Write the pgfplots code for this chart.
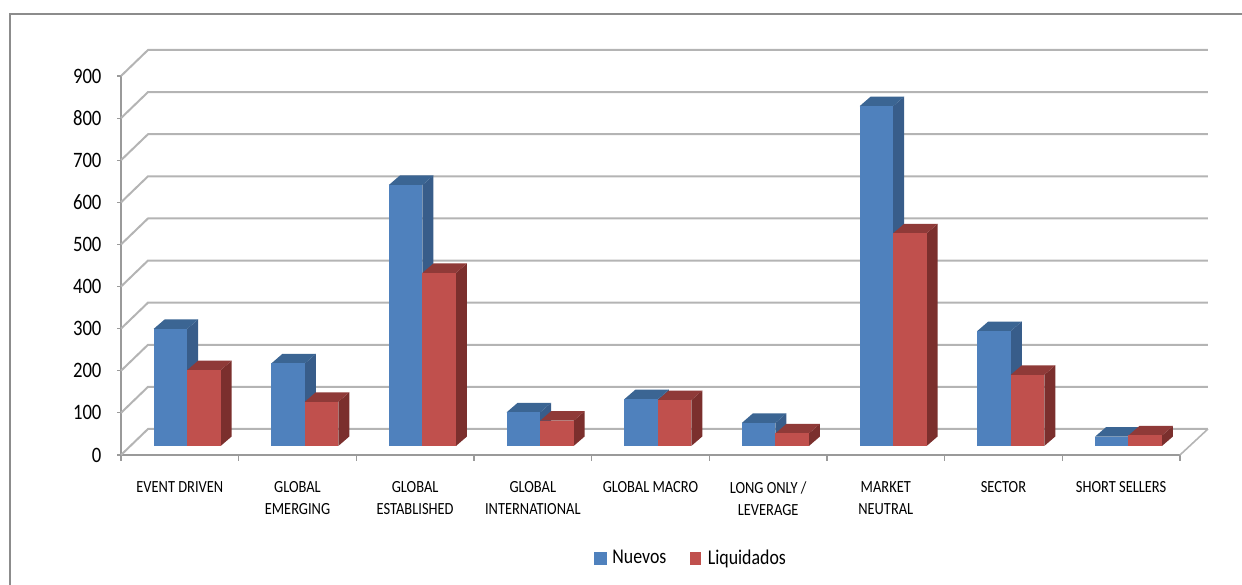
\documentclass[border=0pt]{standalone}
\usepackage{pgfplots}
\pgfplotsset{compat=1.18}
\usepackage{fontspec}
\setmainfont{Carlito}
\newfontfamily\narrowfont[FakeStretch=0.85]{Carlito}

% Colours of the faces, the grid and the outer frame
\definecolor{bluefront}{HTML}{4F81BD}
\definecolor{blueside}{HTML}{385D8A}
\definecolor{bluetop}{HTML}{3B6593}
\definecolor{redfront}{HTML}{C0504D}
\definecolor{redside}{HTML}{7B2F2D}
\definecolor{redtop}{HTML}{8F3A38}
\definecolor{gridgray}{HTML}{B4B4B4}
\definecolor{axisgray}{HTML}{9A9A9A}
\definecolor{framegray}{HTML}{8C8C8C}

% Extruded bar: category index, offset in the category, value, three face colours
\newcommand{\extrudedbar}[6]{%
  \pgfmathsetmacro{\xa}{#1+#2}%
  \pgfmathsetmacro{\xb}{\xa+0.2847}%
  \pgfmathsetmacro{\xc}{\xb+0.0935}%
  \pgfmathsetmacro{\xd}{\xa+0.0935}%
  \pgfmathsetmacro{\ya}{21.4}%
  \pgfmathsetmacro{\yb}{#3+21.4}%
  \pgfmathsetmacro{\yc}{#3+21.4+22.6}%
  \pgfmathsetmacro{\ye}{21.4+22.6}%
  \edef\drawfaces{%
    \noexpand\addplot[forget plot,draw=none,fill=#6] coordinates {(\xb,\ya)(\xc,\ye)(\xc,\yc)(\xb,\yb)} --cycle;
    \noexpand\addplot[forget plot,draw=none,fill=#5] coordinates {(\xa,\yb)(\xb,\yb)(\xc,\yc)(\xd,\yc)} --cycle;
    \noexpand\addplot[forget plot,draw=none,fill=#4] coordinates {(\xa,\ya)(\xb,\ya)(\xb,\yb)(\xa,\yb)} --cycle;
  }%
  \drawfaces
}
% One category: its index and the two values
\newcommand{\category}[3]{%
  \extrudedbar{#1}{0.2776}{#2}{bluefront}{bluetop}{blueside}%
  \extrudedbar{#1}{0.5623}{#3}{redfront}{redtop}{redside}%
}
% One level of the back wall and its diagonal on the side wall
\newcommand{\wallline}[1]{%
  \pgfmathsetmacro{\yfront}{#1}%
  \pgfmathsetmacro{\yback}{#1+61.8}%
  \edef\drawwall{%
    \noexpand\addplot[forget plot,gridgray,line width=2pt] coordinates {(0,\yfront)(0.2295,\yback)(9.238,\yback)};
  }%
  \drawwall
}

\begin{document}
\begin{tikzpicture}[x=1pt,y=1pt]
\path[use as bounding box] (0,0) rectangle (1242,585);
\draw[framegray,line width=1.3pt] (10,-2) -- (10,571) -- (1244,571);
\begin{axis}[
  at={(121pt,130pt)}, anchor=south west,
  scale only axis, width=1059pt, height=379pt,
  xmin=0, xmax=9, ymin=0, ymax=900,
  clip=false,
  axis x line*=bottom, axis y line*=left,
  axis line style={axisgray,line width=1.6pt,-},
  tick align=outside,
  xtick={0.5,1.5,...,8.5},
  minor xtick={0,1,...,9},
  major x tick style={draw=none},
  minor x tick style={axisgray,line width=1.2pt},
  minor tick length=6pt,
  xticklabels={
    {EVENT DRIVEN},{GLOBAL\\EMERGING},{GLOBAL\\ESTABLISHED},{GLOBAL\\INTERNATIONAL},
    {GLOBAL MACRO},{LONG ONLY /\\LEVERAGE},{MARKET\\NEUTRAL},{SECTOR},{SHORT SELLERS}},
  xticklabel style={align=center,font=\narrowfont\fontsize{17}{22}\selectfont,anchor=north,yshift=-19pt},
  ytick={0,100,...,900},
  y tick style={axisgray,line width=1.2pt},
  major tick length=4pt,
  yticklabel style={font=\narrowfont\fontsize{22}{24}\selectfont,xshift=-12pt},
  /pgf/number format/assume math mode=true,
  legend cell align=left,
  legend columns=2,
  legend style={draw=none,fill=none,font=\narrowfont\fontsize{21}{24}\selectfont,
    at={(570pt,-103pt)},anchor=center,inner sep=0pt,
    /tikz/every even column/.style={column sep=22pt}},
]
\addlegendimage{legend image code/.code={\fill[bluefront] (0pt,-6pt) rectangle (12pt,6pt);\path (16pt,0pt);}}
\addlegendentry{Nuevos}
\addlegendimage{legend image code/.code={\fill[redfront] (0pt,-6pt) rectangle (10pt,6pt);\path (15pt,0pt);}}
\addlegendentry{Liquidados}

% back wall, side wall and floor
\wallline{900}\wallline{800}\wallline{700}\wallline{600}\wallline{500}
\wallline{400}\wallline{300}\wallline{200}\wallline{100}\wallline{0}
\addplot[forget plot,gridgray,line width=1.6pt] coordinates {(9,0)(9.238,61.8)};

% values of Nuevos and Liquidados per strategy
\category{0}{278}{180}
\category{1}{196}{105}
\category{2}{620}{411}
\category{3}{80}{60}
\category{4}{111}{109}
\category{5}{55}{30}
\category{6}{807}{505}
\category{7}{273}{169}
\category{8}{22}{25}
\end{axis}
\end{tikzpicture}
\end{document}
